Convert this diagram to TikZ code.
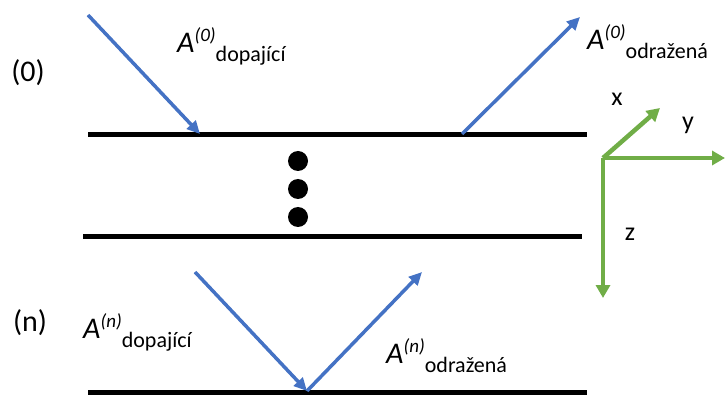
\documentclass[tikz,border=0pt]{standalone}
\usepackage{fontspec}
\setmainfont{Carlito}
\usepackage{xcolor}
\definecolor{WaveBlue}{HTML}{4472C4}
\definecolor{AxisGreen}{HTML}{70AD47}
\usepackage{tikz}
\usetikzlibrary{positioning,arrows.meta}
\tikzset{
  layer/.style={draw=black,line width=5pt},
  wave/.style={-{Triangle[length=13pt,width=12pt]},draw=WaveBlue,line width=3.5pt},
  axis/.style={-{Triangle[length=13pt,width=14pt]},draw=AxisGreen,line width=4.5pt},
  dot/.style={circle,fill=black,inner sep=0pt,minimum size=20pt},
  amplabel/.style={anchor=base west,inner sep=0pt,font=\fontsize{30}{30}\selectfont},
  axlabel/.style={inner sep=0pt,font=\fontsize{26}{26}\selectfont},
  layerlabel/.style={inner sep=0pt,font=\fontsize{30}{30}\selectfont}
}
\newcommand{\ampl}[2]{\textit{A}\raisebox{11pt}{\fontsize{19}{19}\selectfont\itshape(#1)}\raisebox{-9pt}{\fontsize{22}{22}\selectfont #2}}

\begin{document}
\begin{tikzpicture}[x=1pt,y=-1pt]
  \useasboundingbox (0,0) rectangle (725,395);
  % layers
  \coordinate (top1) at (88,135);
  \coordinate (top2) at (587,135);
  \coordinate (mid1) at (83,237);
  \coordinate (mid2) at (582,237);
  \coordinate (bot1) at (88,392);
  \coordinate (bot2) at (587,392);
  \draw[layer] (top1) -- (top2);
  \draw[layer] (mid1) -- (mid2);
  \draw[layer] (bot1) -- (bot2);
  \node[dot] (d1) at (298,161) {};
  \node[dot] (d2) at (298,189) {};
  \node[dot] (d3) at (298,217) {};
  % waves
  \coordinate (in0) at (88,15);
  \coordinate (hit0) at (200,134);
  \coordinate (out0a) at (462,134);
  \coordinate (out0) at (580,17);
  \coordinate (inn) at (195,272);
  \coordinate (hitn) at (307,391);
  \coordinate (outn) at (422,272);
  \draw[wave] (in0) -- (hit0);
  \draw[wave] (out0a) -- (out0);
  \draw[wave] (inn) -- (hitn);
  \draw[wave] (hitn) -- (outn);
  \node[amplabel] (a0in) at (177,53) {\ampl{0}{dopající}};
  \node[amplabel] (a0out) at (587,50) {\ampl{0}{odražená}};
  \node[amplabel] (anin) at (83,338) {\ampl{n}{dopající}};
  \node[amplabel] (anout) at (386,363) {\ampl{n}{odražená}};
  \node[layerlabel] (l0) at (28,73) {(0)};
  \node[layerlabel] (ln) at (30,323) {(n)};
  % axes
  \coordinate (o) at (603,158);
  \coordinate (xend) at (660,108);
  \coordinate (yend) at (725,158);
  \coordinate (zend) at (603,298);
  \draw[axis] (o) -- (xend);
  \draw[axis] (o) -- (yend);
  \draw[axis] (o) -- (zend);
  \node[axlabel] (xl) at (617,99) {x};
  \node[axlabel] (yl) at (688,125) {y};
  \node[axlabel] (zl) at (630,234) {z};
\end{tikzpicture}
\end{document}
